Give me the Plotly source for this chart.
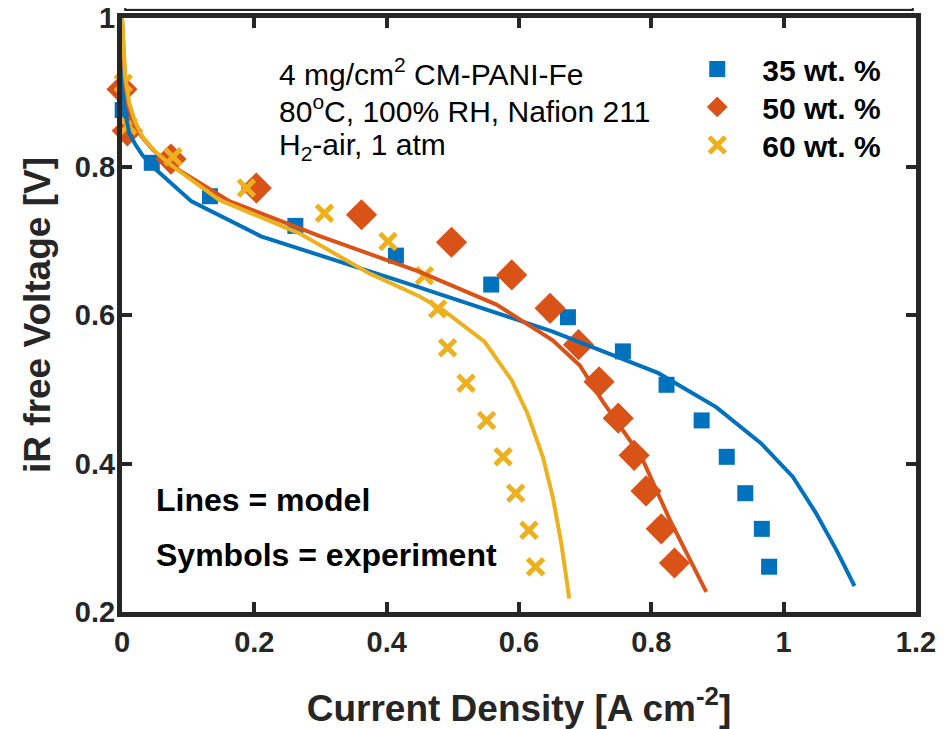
import plotly.graph_objects as go

# ---- data ----
series_names = ["35 wt. %", "50 wt. %", "60 wt. %"]
colors = ["#0072BD", "#D95319", "#EDB120"]

exp35_x = [0.001, 0.005, 0.045, 0.133, 0.262, 0.414, 0.558, 0.674, 0.757, 0.823, 0.876, 0.914, 0.942, 0.967, 0.978]
exp35_y = [0.876, 0.851, 0.805, 0.760, 0.720, 0.680, 0.641, 0.597, 0.551, 0.506, 0.458, 0.409, 0.360, 0.312, 0.261]

exp50_x = [0.0, 0.008, 0.074, 0.203, 0.362, 0.498, 0.589, 0.647, 0.690, 0.721, 0.750, 0.774, 0.792, 0.815, 0.835]
exp50_y = [0.904, 0.848, 0.810, 0.771, 0.735, 0.698, 0.654, 0.609, 0.560, 0.510, 0.461, 0.411, 0.363, 0.312, 0.266]

exp60_x = [0.002, 0.009, 0.077, 0.188, 0.306, 0.402, 0.457, 0.477, 0.492, 0.520, 0.551, 0.576, 0.595, 0.615, 0.625]
exp60_y = [0.912, 0.855, 0.813, 0.771, 0.737, 0.699, 0.653, 0.608, 0.556, 0.508, 0.458, 0.409, 0.360, 0.310, 0.261]

mod35_x = [0, 0.001, 0.003, 0.006, 0.011, 0.02, 0.031, 0.05, 0.105, 0.21, 0.44, 0.65, 0.81, 0.898, 0.966, 1.014, 1.049, 1.080, 1.107]
mod35_y = [1.0, 0.93, 0.89, 0.867, 0.845, 0.83, 0.815, 0.797, 0.753, 0.706, 0.640, 0.578, 0.522, 0.476, 0.427, 0.382, 0.333, 0.283, 0.235]

mod50_x = [0, 0.002, 0.005, 0.01, 0.016, 0.03, 0.047, 0.077, 0.163, 0.30, 0.45, 0.566, 0.651, 0.692, 0.727, 0.785, 0.828, 0.883]
mod50_y = [1.0, 0.95, 0.91, 0.88, 0.863, 0.84, 0.822, 0.80, 0.753, 0.706, 0.658, 0.614, 0.566, 0.532, 0.483, 0.409, 0.324, 0.227]

mod60_x = [0, 0.002, 0.005, 0.011, 0.02, 0.031, 0.05, 0.077, 0.147, 0.268, 0.374, 0.45, 0.485, 0.548, 0.589, 0.613, 0.636, 0.651, 0.664, 0.676]
mod60_y = [1.0, 0.96, 0.92, 0.885, 0.86, 0.84, 0.82, 0.80, 0.755, 0.71, 0.656, 0.625, 0.607, 0.564, 0.512, 0.467, 0.409, 0.355, 0.292, 0.218]

x_ticks = [0, 0.2, 0.4, 0.6, 0.8, 1.0, 1.2]
x_tick_labels = ["0", "0.2", "0.4", "0.6", "0.8", "1", "1.2"]
y_ticks = [0.2, 0.4, 0.6, 0.8, 1.0]
y_tick_labels = ["0.2", "0.4", "0.6", "0.8", "1"]

FONT = "Liberation Sans, Arial, Helvetica, sans-serif"
AX = "#262626"

fig = go.Figure()

exp_sets = [(exp35_x, exp35_y), (exp50_x, exp50_y), (exp60_x, exp60_y)]
markers = [
    dict(symbol="square", size=16, color=colors[0]),
    dict(symbol="diamond", size=24, color=colors[1]),
    dict(symbol="x-thin", size=16, color=colors[2], line=dict(width=5, color=colors[2])),
]
legend_ids = ["legend", "legend2", "legend3"]
for (ex, ey), name, mk, lg in zip(exp_sets, series_names, markers, legend_ids):
    fig.add_trace(go.Scatter(x=ex, y=ey, mode="markers", name=name, marker=mk,
                             cliponaxis=False, showlegend=True, legend=lg))

for (mx, my), c in zip([(mod35_x, mod35_y), (mod50_x, mod50_y), (mod60_x, mod60_y)], colors):
    fig.add_trace(go.Scatter(x=mx, y=my, mode="lines", line=dict(color=c, width=4),
                             showlegend=False, hoverinfo="skip"))

# text annotations
ann_font = dict(family=FONT, size=30, color="black")
bold_font = dict(family=FONT, size=32, color="black")
fig.add_annotation(x=0.235, y=0.927, xref="x", yref="y", xanchor="left", yanchor="middle",
                   text="4 mg/cm<sup>2</sup> CM-PANI-Fe", showarrow=False, font=ann_font)
fig.add_annotation(x=0.235, y=0.877, xref="x", yref="y", xanchor="left", yanchor="middle",
                   text="80<sup>o</sup>C, 100% RH, Nafion 211", showarrow=False, font=ann_font)
fig.add_annotation(x=0.235, y=0.827, xref="x", yref="y", xanchor="left", yanchor="middle",
                   text="H<sub>2</sub>-air, 1 atm", showarrow=False, font=ann_font)
fig.add_annotation(x=0.049, y=0.351, xref="x", yref="y", xanchor="left", yanchor="middle",
                   text="<b>Lines = model</b>", showarrow=False, font=bold_font)
fig.add_annotation(x=0.049, y=0.277, xref="x", yref="y", xanchor="left", yanchor="middle",
                   text="<b>Symbols = experiment</b>", showarrow=False, font=bold_font)

# clipped gray box at very top
fig.add_shape(type="rect", xref="paper", yref="paper", x0=0.004, x1=0.996, y0=1.0135, y1=1.06,
              fillcolor="#e3e3e3", line=dict(color=AX, width=2), layer="above")

legend_style = dict(xanchor="left", yanchor="top", bgcolor="rgba(0,0,0,0)",
                    font=dict(family=FONT, size=30, color="black", weight="bold"),
                    itemwidth=80, tracegroupgap=0)

fig.update_layout(
    width=944, height=721,
    margin=dict(l=114, r=36, t=10, b=117, autoexpand=False),
    paper_bgcolor="white", plot_bgcolor="white",
    font=dict(family=FONT, color=AX),
    showlegend=True,
    legend=dict(x=0.693, y=0.958, **legend_style),
    legend2=dict(x=0.693, y=0.894, **legend_style),
    legend3=dict(x=0.693, y=0.830, **legend_style),
)
fig.update_xaxes(range=[0, 1.2], tickvals=x_ticks, ticktext=x_tick_labels, automargin=False,
                 showline=True, linecolor=AX, linewidth=5, mirror="ticks",
                 ticks="inside", ticklen=10, tickwidth=4, tickcolor=AX,
                 showgrid=False, zeroline=False, ticklabeloverflow="allow",
                 tickfont=dict(family=FONT, size=29, color=AX, weight="bold"),
                 ticklabelstandoff=0,
                 title=dict(text="<b>Current Density [A cm<sup>-2</sup>]</b>", standoff=48,
                            font=dict(family=FONT, size=37, color=AX)))
fig.update_yaxes(range=[0.2, 1.0], tickvals=y_ticks, ticktext=y_tick_labels, automargin=False,
                 showline=True, linecolor=AX, linewidth=5, mirror="ticks",
                 ticks="inside", ticklen=10, tickwidth=4, tickcolor=AX,
                 showgrid=False, zeroline=False, ticklabeloverflow="allow",
                 tickfont=dict(family=FONT, size=29, color=AX, weight="bold"),
                 ticklabelstandoff=-4,
                 title=dict(text="<b>iR free Voltage [V]</b>", standoff=14,
                            font=dict(family=FONT, size=37, color=AX)))

fig.write_html("out.html")
